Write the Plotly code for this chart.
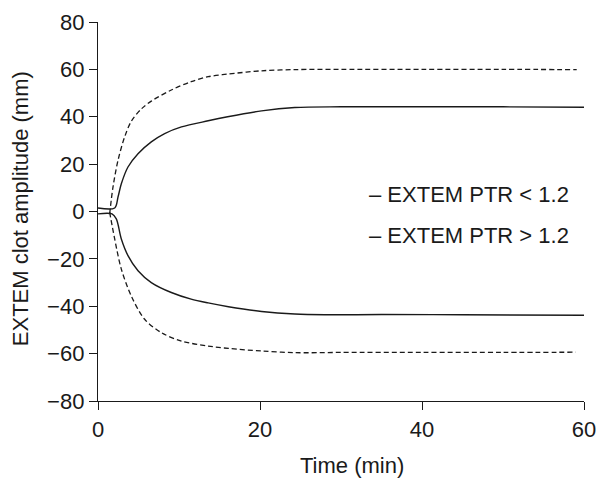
import plotly.graph_objects as go

# Data (time in min, amplitude in mm)
t_low_upper = [0, 2.06, 2.47, 2.88, 3.7, 4.94, 6.58, 8.23, 10.3, 13.6, 16, 20.2, 24.3, 30, 40, 50, 60]
v_low_upper = [1.5, 1.5, 6.1, 11.7, 18.8, 24.4, 29.4, 32.9, 35.7, 38.3, 40.0, 42.5, 43.9, 44.2, 44.2, 44.2, 44.0]

t_low_lower = [0, 1.73, 2.26, 2.88, 3.7, 4.94, 6.58, 9.05, 11.5, 13.6, 16.1, 20.2, 24.3, 28, 35, 45, 60]
v_low_lower = [-1.0, -1.0, -3.1, -11.6, -18.6, -25.0, -30.0, -34.2, -37.0, -38.6, -40.2, -42.2, -43.3, -43.6, -43.5, -43.6, -43.8]

t_high_upper = [1.44, 1.85, 2.47, 3.29, 4.1, 5.35, 6.58, 9.05, 11.5, 13.6, 16, 20.2, 24.3, 30, 40, 50, 59.1]
v_high_upper = [-1.0, 10.3, 21.6, 31.5, 38.0, 43.3, 46.6, 51.3, 54.8, 56.9, 58.0, 59.4, 59.9, 60.0, 60.0, 60.0, 59.9]

t_high_lower = [1.44, 2.06, 2.88, 4.1, 5.76, 7.8, 10.3, 13.6, 16.1, 20.2, 24.3, 30, 40, 50, 59]
v_high_lower = [-0.3, -11.6, -24.3, -35.6, -45.5, -51.1, -54.7, -56.8, -57.8, -58.9, -59.6, -59.5, -59.5, -59.5, -59.4]

x_ticks = [0, 20, 40, 60]
y_ticks = [-80, -60, -40, -20, 0, 20, 40, 60, 80]
y_ticktext = [("\u2212" + str(-v)) if v < 0 else str(v) for v in y_ticks]

legend_labels = ["\u2013 EXTEM PTR < 1.2", "\u2013 EXTEM PTR > 1.2"]
x_title = "Time (min)"
y_title = "EXTEM clot amplitude (mm)"

FONT = "Liberation Sans, Arial, Helvetica, sans-serif"
COL = "#1a1a1a"

fig = go.Figure()
solid = dict(color=COL, width=1.4)
dashed = dict(color=COL, width=1.3, dash="5px,3px")
for t, v, ln in [(t_low_upper, v_low_upper, solid), (t_low_lower, v_low_lower, solid),
                 (t_high_upper, v_high_upper, dashed), (t_high_lower, v_high_lower, dashed)]:
    fig.add_trace(go.Scatter(x=t, y=v, mode="lines", line=dict(shape="spline", smoothing=0.9, **ln),
                             showlegend=False, hoverinfo="skip"))

for i, lab in enumerate(legend_labels):
    fig.add_annotation(x=0.553, xref="paper", y=[7.2, -10.0][i], yref="y", text=lab,
                       showarrow=False, xanchor="left", yanchor="middle",
                       font=dict(family=FONT, size=22, color=COL))

fig.add_annotation(x=0.523, y=-0.1715, xref="paper", yref="paper", text=x_title,
                   showarrow=False, xanchor="center", yanchor="middle",
                   font=dict(family=FONT, size=22, color=COL))
fig.add_annotation(x=-0.158, y=0.5066, xref="paper", yref="paper", text=y_title, textangle=-90,
                   showarrow=False, xanchor="center", yanchor="middle",
                   font=dict(family=FONT, size=22, color=COL))

fig.update_layout(
    width=597, height=478,
    margin=dict(l=98, r=13, t=22, b=77),
    plot_bgcolor="white", paper_bgcolor="white",
    font=dict(family=FONT, size=22, color=COL),
    xaxis=dict(range=[0, 60], tickvals=x_ticks, showgrid=False, zeroline=False, automargin=False,
               showline=True, linecolor=COL, linewidth=1.3, ticks="outside", ticklen=8,
               tickwidth=1.3, tickcolor=COL),
    yaxis=dict(range=[-80, 80], tickvals=y_ticks, ticktext=y_ticktext, showgrid=False, zeroline=False,
               automargin=False,
               showline=True, linecolor=COL, linewidth=1.3, ticks="outside", ticklen=8,
               tickwidth=1.3, tickcolor=COL),
)

fig.write_html("out.html", config={"displayModeBar": False},
               post_script="document.body.style.margin='0';document.body.style.overflow='hidden';")
